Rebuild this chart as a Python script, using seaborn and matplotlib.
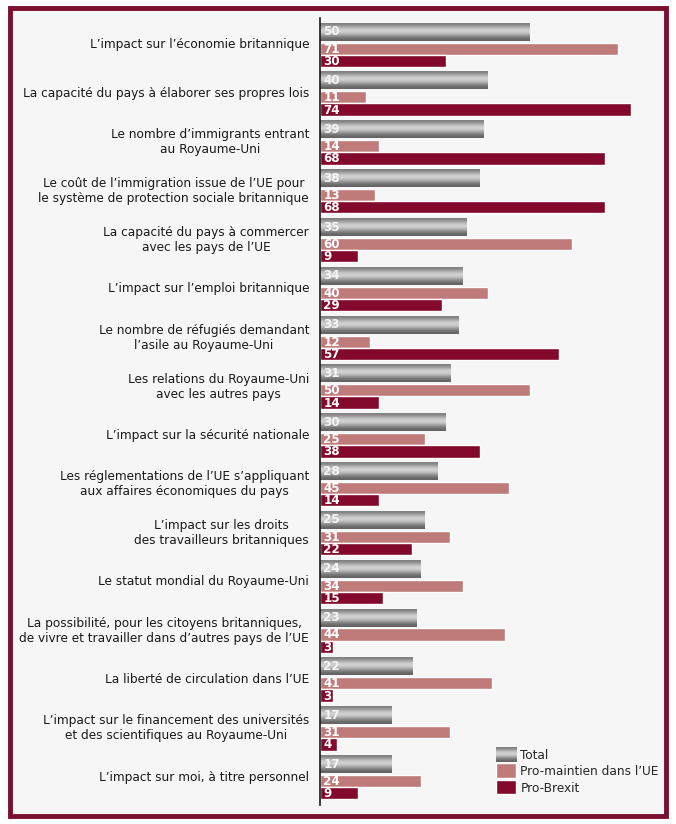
import matplotlib
matplotlib.use('Agg')

import matplotlib.pyplot as plt
import numpy as np
import pandas as pd
import seaborn as sns
from matplotlib.patches import Patch, Rectangle
from matplotlib.legend_handler import HandlerPatch
from matplotlib.image import BboxImage
from matplotlib.transforms import Bbox, TransformedBbox

# survey items, top to bottom
categories = [
    "L’impact sur l’économie britannique",
    "La capacité du pays à élaborer ses propres lois",
    "Le nombre d’immigrants entrant\nau Royaume-Uni",
    "Le coût de l’immigration issue de l’UE pour\nle système de protection sociale britannique",
    "La capacité du pays à commercer\navec les pays de l’UE",
    "L’impact sur l’emploi britannique",
    "Le nombre de réfugiés demandant\nl’asile au Royaume-Uni",
    "Les relations du Royaume-Uni\navec les autres pays",
    "L’impact sur la sécurité nationale",
    "Les réglementations de l’UE s’appliquant\naux affaires économiques du pays",
    "L’impact sur les droits\ndes travailleurs britanniques",
    "Le statut mondial du Royaume-Uni",
    "La possibilité, pour les citoyens britanniques,\nde vivre et travailler dans d’autres pays de l’UE",
    "La liberté de circulation dans l’UE",
    "L’impact sur le financement des universités\net des scientifiques au Royaume-Uni",
    "L’impact sur moi, à titre personnel",
]
total = [50, 40, 39, 38, 35, 34, 33, 31, 30, 28, 25, 24, 23, 22, 17, 17]
pro_maintien = [71, 11, 14, 13, 60, 40, 12, 50, 25, 45, 31, 34, 44, 41, 31, 24]
pro_brexit = [30, 74, 68, 68, 9, 29, 57, 14, 38, 14, 22, 15, 3, 3, 4, 9]
series_names = ["Total", "Pro-maintien dans l’UE", "Pro-Brexit"]

df = pd.DataFrame({"cat": categories, "Total": total,
                   "Pro-maintien": pro_maintien, "Pro-Brexit": pro_brexit})

sns.set_theme(style="white")
plt.rcParams['font.family'] = ['DejaVu Sans']
plt.rcParams['font.stretch'] = 'condensed'

BG = "#f6f6f6"
PINK = "#bf7a7a"
RED = "#82092b"
BORDER = "#7a0f2e"

# metallic look of the Total bars (top -> bottom)
grad = np.array([0.5, 0.58, 0.7, 0.8, 0.83, 0.77, 0.65, 0.53, 0.44, 0.39]).reshape(-1, 1)


class GradientHandler(HandlerPatch):
    def create_artists(self, legend, orig_handle, xdescent, ydescent,
                       width, height, fontsize, trans):
        bb = TransformedBbox(Bbox.from_bounds(-xdescent, -ydescent, width, height), trans)
        im = BboxImage(bb, cmap="gray", norm=plt.Normalize(0, 1), interpolation="bicubic")
        im.set_data(grad)
        return [im]


fig = plt.figure(figsize=(6.76, 8.24), dpi=100, facecolor="white")
# frame around the whole graphic
fig.patches.append(Rectangle((10 / 676, 8 / 824), 656 / 676, 808 / 824,
                             transform=fig.transFigure, facecolor=BG,
                             edgecolor=BORDER, linewidth=3.5, zorder=-5))

ax = fig.add_axes([320 / 676, 19 / 824, 340 / 676, 787 / 824])
ax.set_facecolor("none")

y = np.arange(len(df))
g_h, p_h, r_h = 0.364, 0.247, 0.253
y_gray = y + g_h / 2
y_pink = y + 0.404 + p_h / 2
y_red = y + 0.651 + r_h / 2

bars_t = ax.barh(y_gray, df["Total"], height=g_h, color="none", edgecolor="none")
ax.barh(y_pink, df["Pro-maintien"], height=p_h, color=PINK)
ax.barh(y_red, df["Pro-Brexit"], height=r_h, color=RED)

for b in bars_t:
    x0, y0, w, h = b.get_x(), b.get_y(), b.get_width(), b.get_height()
    ax.imshow(grad, cmap="gray", vmin=0, vmax=1, aspect="auto",
              extent=(x0, x0 + w, y0 + h, y0), interpolation="bicubic", zorder=2)

num_kw = dict(fontweight="bold", fontsize=9.5, va="center", ha="left", zorder=3)
for yy, v in zip(y_gray, df["Total"]):
    ax.text(0.8, yy, str(v), color="#f4f4f4", **num_kw)
for yy, v in zip(y_pink, df["Pro-maintien"]):
    ax.text(0.8, yy + 0.01, str(v), color="white", **num_kw)
for yy, v in zip(y_red, df["Pro-Brexit"]):
    ax.text(0.8, yy + 0.01, str(v), color="white", **num_kw)

for yy, c in zip(y, df["cat"]):
    ax.text(-2.6, yy + 0.45, c, ha="right", va="center", multialignment="center",
            fontsize=9.7, color="#1a1a1a", linespacing=1.2)

ax.set_xlim(0, 81)
ax.set_ylim(16.02, -0.1)
ax.set_xticks([])
ax.set_yticks([])
for s in ["top", "right", "bottom"]:
    ax.spines[s].set_visible(False)
ax.spines["left"].set_color("#1a1a1a")
ax.spines["left"].set_linewidth(1.2)

handles = [Patch(facecolor="#8c8c8c"), Patch(facecolor=PINK), Patch(facecolor=RED)]
ax.legend(handles, series_names, loc="lower right", bbox_to_anchor=(1.02, 0.003),
          frameon=False, fontsize=9.7, handlelength=1.5, handleheight=1.3,
          handletextpad=0.3, labelspacing=0.1, borderaxespad=0.2,
          handler_map={handles[0]: GradientHandler()})

fig.savefig("out.png", dpi=100, facecolor="white")
